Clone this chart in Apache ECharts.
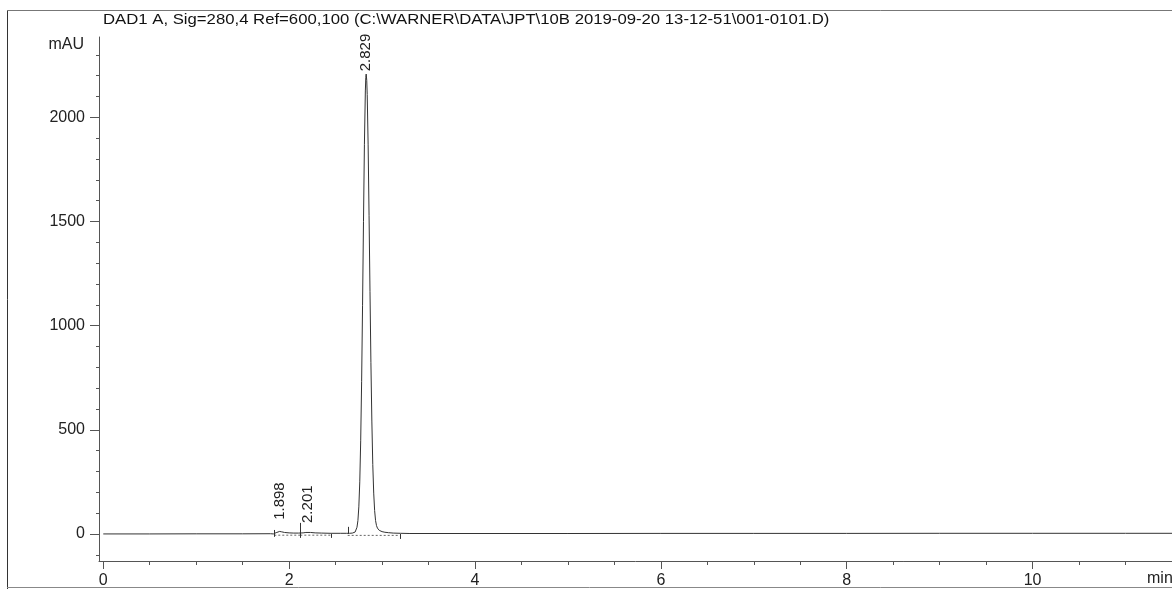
<!DOCTYPE html>
<html>
<head>
<meta charset="utf-8">
<script src="https://cdn.jsdelivr.net/npm/echarts@6/dist/echarts.min.js"></script>
<style>
  html, body { margin: 0; padding: 0; background: #fff; }
  #chart { width: 1172px; height: 589px; }
</style>
</head>
<body>
<div id="chart"></div>
<script>
// Signal trace: retention time (min) and detector response (mAU)
const traceTime = [
  0, 0.5, 1.0, 1.5, 1.8, 1.83, 1.845, 1.86, 1.88, 1.898, 1.92, 1.95,
  2.0, 2.05, 2.1, 2.15, 2.18, 2.201, 2.23, 2.28, 2.35, 2.45, 2.55, 2.62,
  2.65, 2.68, 2.70, 2.71, 2.72, 2.73, 2.74, 2.75, 2.76, 2.77, 2.78, 2.79,
  2.80, 2.81, 2.82, 2.825, 2.829, 2.835, 2.84, 2.85, 2.86, 2.87, 2.88, 2.89,
  2.90, 2.91, 2.92, 2.93, 2.94, 2.95, 2.96, 2.97, 2.98, 3.00, 3.03, 3.07,
  3.12, 3.20, 3.30, 4.0, 5.0, 6.0, 7.0, 8.0, 9.0, 10.0, 11.0, 11.5
];
const traceMAU = [
  0, 0, 0.5, 0.5, 1, 0, -3, 6, 11, 12, 10, 7,
  5, 4, 4, 5, 7, 8, 7, 5, 4, 3, 3, 3,
  3, 4, 6, 9, 16, 32, 64, 130, 250, 447, 733, 1098,
  1501, 1871, 2127, 2192, 2208, 2178, 2110, 1868, 1530, 1165, 822, 542,
  334, 196, 112, 64, 40, 28, 21, 17, 14, 11, 8, 6,
  4, 3, 2, 2, 2, 2.5, 2.5, 2.5, 3, 3, 3, 3
];

// Peak labels (retention times) and the height their text starts from
const peakRT = [1.898, 2.201, 2.829];
const peakLabelAt = [58, 43, 2212];

// Integration event marks: time, lower and upper ends (mAU)
const markTime = [1.84, 2.12, 2.45, 2.63, 3.19];
const markLow = [-14, -19, -19, 0, -24];
const markHigh = [19, 53, 0, 34, 0];

// Integration baselines drawn under the peaks
const baseStart = [1.84, 2.12, 2.63];
const baseEnd = [2.12, 2.45, 3.19];
const baseLevel = [-6, -6, -7];

// Axis ticks
const yMajor = [0, 500, 1000, 1500, 2000];
const yMinor = [-100, 100, 200, 300, 400, 600, 700, 800, 900, 1100, 1200, 1300, 1400,
                1600, 1700, 1800, 1900, 2100, 2200, 2300];
const xMajor = [0, 2, 4, 6, 8, 10];
const xMinor = [0.5, 1, 1.5, 2.5, 3, 3.5, 4.5, 5, 5.5, 6.5, 7, 7.5, 8.5, 9, 9.5, 10.5, 11, 11.5];

const titleText = 'DAD1 A, Sig=280,4 Ref=600,100 (C:\\WARNER\\DATA\\JPT\\10B 2019-09-20 13-12-51\\001-0101.D)';

const FONT = '"Liberation Sans", Arial, sans-serif';
const INK = '#222';
const AXIS = '#555';

const trace = traceTime.map((t, i) => [t, traceMAU[i]]);
const marks = markTime.map((t, i) => [t, markLow[i], markHigh[i]]);
const baselines = baseStart.map((s, i) => [s, baseLevel[i], baseEnd[i]]);
const labels = peakRT.map((t, i) => [t, peakLabelAt[i]]);

const X_MIN = -0.046, X_MAX = 11.5, Y_MIN = -130, Y_MAX = 2386;

const chart = echarts.init(document.getElementById('chart'), null, { renderer: 'canvas' });

const plainNumber = v => String(v);

chart.setOption({
  animation: false,
  backgroundColor: '#fff',
  grid: { left: 99, right: -10, top: 37, bottom: 28, containLabel: false },
  xAxis: [
    {
      type: 'value', min: X_MIN, max: X_MAX, position: 'bottom',
      axisLine: { show: true, onZero: false, lineStyle: { color: AXIS, width: 1 } },
      axisTick: { show: true, customValues: xMajor, length: 8, lineStyle: { color: AXIS } },
      axisLabel: { show: true, customValues: xMajor, margin: 12, formatter: plainNumber,
                   fontFamily: FONT, fontSize: 16, color: INK },
      splitLine: { show: false }
    },
    {
      type: 'value', min: X_MIN, max: X_MAX, position: 'bottom',
      axisLine: { show: false, onZero: false },
      axisTick: { show: true, customValues: xMinor, length: 4, lineStyle: { color: AXIS } },
      axisLabel: { show: false },
      splitLine: { show: false }
    }
  ],
  yAxis: [
    {
      type: 'value', min: Y_MIN, max: Y_MAX, position: 'left',
      axisLine: { show: true, onZero: false, lineStyle: { color: AXIS, width: 1 } },
      axisTick: { show: true, customValues: yMajor, length: 9, lineStyle: { color: AXIS } },
      axisLabel: { show: true, customValues: yMajor, margin: 14, formatter: plainNumber,
                   fontFamily: FONT, fontSize: 16, color: INK },
      splitLine: { show: false }
    },
    {
      type: 'value', min: Y_MIN, max: Y_MAX, position: 'left',
      axisLine: { show: false, onZero: false },
      axisTick: { show: true, customValues: yMinor, length: 3, lineStyle: { color: AXIS } },
      axisLabel: { show: false },
      splitLine: { show: false }
    }
  ],
  graphic: [
    // page frame
    { type: 'line', shape: { x1: 7.5, y1: 10, x2: 7.5, y2: 589 }, style: { stroke: '#333', lineWidth: 1 } },
    { type: 'line', shape: { x1: 7, y1: 10.5, x2: 1172, y2: 10.5 }, style: { stroke: '#777', lineWidth: 1 } },
    { type: 'line', shape: { x1: 7, y1: 587.5, x2: 1172, y2: 587.5 }, style: { stroke: '#888', lineWidth: 1 } },
    // signal description
    { type: 'text', x: 103, y: 20, scaleX: 1.194,
      style: { text: titleText, font: '14px ' + FONT, fill: '#111', align: 'left', verticalAlign: 'middle' } },
    // axis units
    { type: 'text', x: 84, y: 45, style: { text: 'mAU', font: '16px ' + FONT, fill: INK, align: 'right', verticalAlign: 'middle' } },
    { type: 'text', x: 1147, y: 579, style: { text: 'min', font: '16px ' + FONT, fill: INK, align: 'left', verticalAlign: 'middle' } }
  ],
  series: [
    {
      name: 'signal',
      type: 'line',
      data: trace,
      showSymbol: false,
      smooth: false,
      lineStyle: { color: '#333', width: 1 },
      clip: false,
      z: 3
    },
    {
      name: 'baselines',
      type: 'custom',
      data: baselines,
      renderItem: function (params, api) {
        const a = api.coord([api.value(0), api.value(1)]);
        const b = api.coord([api.value(2), api.value(1)]);
        return {
          type: 'line',
          shape: { x1: a[0], y1: a[1], x2: b[0], y2: b[1] },
          style: { stroke: '#666', lineWidth: 1, lineDash: [2, 2] }
        };
      },
      z: 2
    },
    {
      name: 'events',
      type: 'custom',
      data: marks,
      renderItem: function (params, api) {
        const a = api.coord([api.value(0), api.value(1)]);
        const b = api.coord([api.value(0), api.value(2)]);
        return {
          type: 'line',
          shape: { x1: Math.round(a[0]) + 0.5, y1: a[1], x2: Math.round(b[0]) + 0.5, y2: b[1] },
          style: { stroke: '#333', lineWidth: 1 }
        };
      },
      z: 2
    },
    {
      name: 'peak labels',
      type: 'custom',
      data: labels,
      clip: false,
      renderItem: function (params, api) {
        const p = api.coord([api.value(0), api.value(1)]);
        return {
          type: 'text',
          x: p[0],
          y: p[1] - 2,
          rotation: Math.PI / 2,
          style: {
            text: peakRT[params.dataIndex].toFixed(3),
            font: '15px ' + FONT,
            fill: INK,
            align: 'left',
            verticalAlign: 'middle'
          }
        };
      },
      z: 4
    }
  ]
});
</script>
</body>
</html>
